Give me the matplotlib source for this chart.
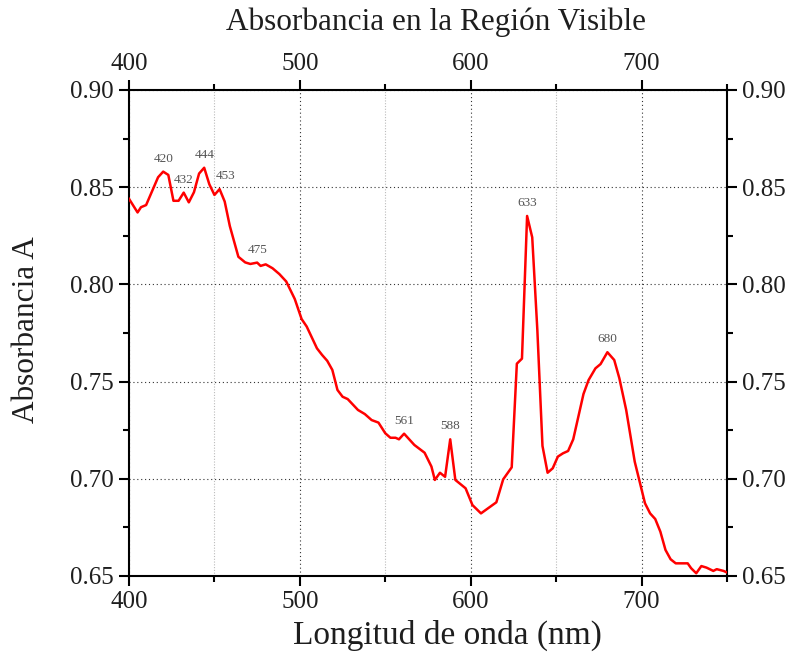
import numpy as np
import matplotlib
matplotlib.use('Agg')
import matplotlib.pyplot as plt
from matplotlib.ticker import MultipleLocator

# Espectro de absorbancia (longitud de onda en nm, absorbancia)
wavelength = [400, 405, 407, 410, 417, 420, 423, 426, 429, 432, 435, 438, 441, 444,
              447, 450, 453, 456, 459, 464, 468, 471, 475, 477, 480, 484, 488, 492,
              497, 501, 504, 510, 513, 516, 519, 522, 525, 528, 534, 538, 542, 546,
              550, 553, 556, 558, 561, 567, 573, 577, 579, 582, 585, 588, 591, 597,
              601, 606, 615, 619, 624, 627, 630, 633, 636, 639, 642, 645, 648, 651,
              654, 657, 660, 666, 669, 673, 676, 680, 684, 687, 691, 696, 702, 705,
              708, 711, 714, 717, 720, 727, 729, 732, 735, 738, 742, 744, 748, 750]
absorbance = [0.844, 0.837, 0.8397, 0.8408, 0.8551, 0.858, 0.8563, 0.843, 0.843, 0.8472,
              0.8422, 0.8474, 0.857, 0.860, 0.8515, 0.846, 0.849, 0.8426, 0.830, 0.8142,
              0.8113, 0.8105, 0.8112, 0.8095, 0.8103, 0.8083, 0.8053, 0.8015, 0.7925,
              0.7822, 0.7783, 0.7671, 0.7637, 0.7607, 0.756, 0.7457, 0.7422, 0.741,
              0.7354, 0.7333, 0.7302, 0.7289, 0.7234, 0.7211, 0.7211, 0.7203, 0.7232,
              0.7174, 0.7134, 0.7063, 0.6994, 0.7031, 0.701, 0.7203, 0.6994, 0.6951,
              0.6865, 0.6822, 0.6879, 0.6997, 0.7059, 0.7592, 0.7618, 0.8352, 0.8242,
              0.7765, 0.7169, 0.7031, 0.7054, 0.7114, 0.7131, 0.7143, 0.7203, 0.7436,
              0.7508, 0.7568, 0.759, 0.7651, 0.7611, 0.7517, 0.7354, 0.7088, 0.6874,
              0.6822, 0.6793, 0.6728, 0.6634, 0.6586, 0.6565, 0.6565, 0.654, 0.6514,
              0.6551, 0.6543, 0.6526, 0.6535, 0.6526, 0.6518]

# picos marcados: (etiqueta, desplazamiento x en puntos)
peaks = [(420, 0), (432, 0), (444, 0), (453, 4), (475, 0), (561, 0), (588, 0), (633, 0), (680, 0)]

plt.rcParams['font.family'] = ['Liberation Serif', 'DejaVu Serif']
txt = '#1e1e1e'

fig = plt.figure(figsize=(7.94, 6.52), dpi=100)
ax = fig.add_axes([0.1625, 0.1166, 0.7531, 0.7454])

ax.plot(wavelength, absorbance, color='#ff0000', lw=1.8, zorder=3)

for wl, dx in peaks:
    a = absorbance[wavelength.index(wl)]
    ax.annotate(str(wl), (wl, a), xytext=(dx, 5), textcoords='offset points',
                ha='center', va='bottom', fontsize=9.5, color='#555555')

ax.set_xlim(400, 750)
ax.set_ylim(0.65, 0.90)
ax.xaxis.set_major_locator(MultipleLocator(100))
ax.xaxis.set_minor_locator(MultipleLocator(50))
ax.yaxis.set_major_locator(MultipleLocator(0.05))
ax.yaxis.set_minor_locator(MultipleLocator(0.025))
ax.yaxis.set_major_formatter(matplotlib.ticker.FormatStrFormatter('%.2f'))

ax.grid(True, which='major', ls=(0, (1, 2.5)), color='#333333', lw=0.8)
ax.grid(True, which='minor', axis='x', ls=(0, (1, 1.5)), color='#bbbbbb', lw=0.8)

for sp in ax.spines.values():
    sp.set_linewidth(1.5)

ax.tick_params(which='both', direction='out', top=True, right=True,
               labeltop=True, labelright=True, width=1.5, labelsize=18, pad=4,
               labelcolor=txt)
ax.tick_params(which='major', length=7)
ax.tick_params(which='minor', length=4)

# titulo y ejetas colocados en coordenadas de figura
fig.text(0.549, 0.966, 'Absorbancia en la Región Visible', fontsize=22.5, color=txt,
         ha='center', va='center')
fig.text(0.563, 0.026, 'Longitud de onda (nm)', fontsize=24, color=txt,
         ha='center', va='center')
fig.text(0.033, 0.495, 'Absorbancia A', fontsize=22.5, color=txt,
         ha='center', va='center', rotation=90)

plt.savefig('out.png', dpi=100)
